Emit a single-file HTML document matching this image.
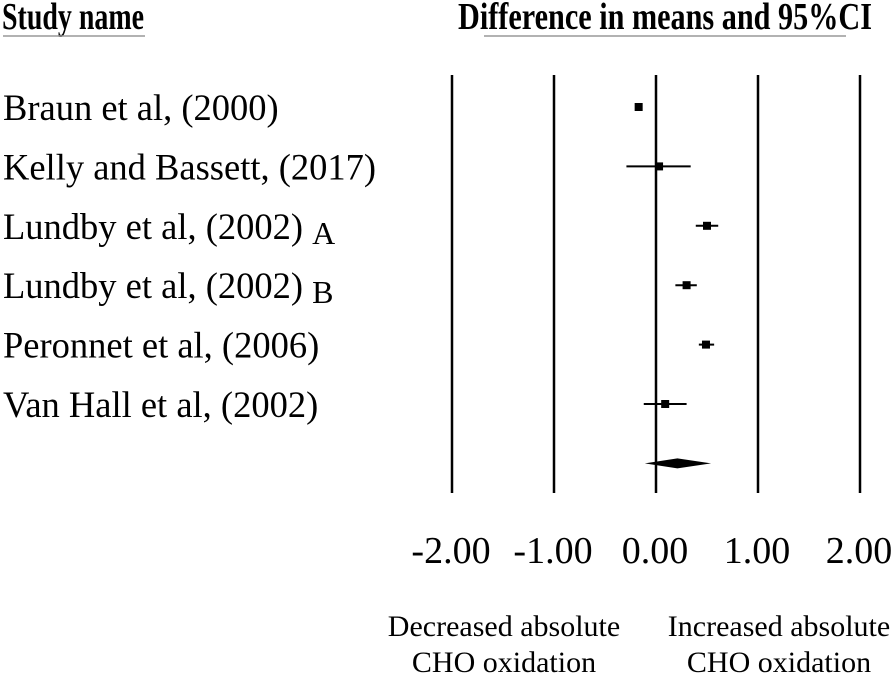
<!DOCTYPE html>
<html><head><meta charset="utf-8"><style>
body{margin:0;background:#fff;}
svg text{font-family:"Liberation Serif",serif;fill:#000;}
</style></head><body>
<svg width="896" height="675" viewBox="0 0 896 675">
<text x="2" y="29" font-size="38" font-weight="bold" textLength="142" lengthAdjust="spacingAndGlyphs">Study name</text>
<line x1="3" y1="36" x2="145" y2="36" stroke="#999" stroke-width="1.5"/>
<text x="458" y="29" font-size="38" font-weight="bold" textLength="414" lengthAdjust="spacingAndGlyphs">Difference in means and 95%CI</text>
<line x1="484" y1="36" x2="846" y2="36" stroke="#999" stroke-width="1.5"/>
<g id="grid"></g><g id="labels"></g><g id="marks"></g>
<text x="504" y="636" font-size="30" text-anchor="middle"><tspan x="504" dy="0">Decreased absolute</tspan><tspan x="504" dy="36">CHO oxidation</tspan></text>
<text x="779" y="636" font-size="30" text-anchor="middle"><tspan x="779" dy="0">Increased absolute</tspan><tspan x="779" dy="36">CHO oxidation</tspan></text>
</svg>
<script>
const studies=["Braun et al, (2000)","Kelly and Bassett, (2017)","Lundby et al, (2002)","Lundby et al, (2002)","Peronnet et al, (2006)","Van Hall et al, (2002)"];
const suffix=["","","A","B","",""];
const est=[-0.17,0.03,0.50,0.30,0.49,0.09];
const lo=[-0.20,-0.29,0.39,0.19,0.42,-0.12];
const hi=[-0.14,0.34,0.61,0.40,0.57,0.30];
const pooled=[0.21,-0.11,0.54];
const ticks=[-2,-1,0,1,2];
const tickLabels=["-2.00","-1.00","0.00","1.00","2.00"];
const NS="http://www.w3.org/2000/svg";
const xs=v=>656+v*102;
const ys=i=>107+i*59.4;
function mk(t,a,p){const e=document.createElementNS(NS,t);for(const k in a)e.setAttribute(k,a[k]);document.getElementById(p).appendChild(e);return e;}
ticks.forEach((t,i)=>{
 const l=mk('line',{x1:xs(t),x2:xs(t),y1:75,y2:493,stroke:'#000','stroke-width':2.5},'grid');
 
 
 const tx=mk('text',{x:xs(t)-1,y:563,'font-size':38,'text-anchor':'middle'},'grid');
 tx.textContent=tickLabels[i];
 
 
});
studies.forEach((s,i)=>{
 const tx=mk('text',{x:3,y:ys(i)+13,'font-size':36.5},'labels');
 tx.textContent=s+(suffix[i]?" ":"");
 if(suffix[i]){const ts=document.createElementNS(NS,'tspan');ts.setAttribute('font-size','32');ts.setAttribute('dy','5');ts.textContent=suffix[i];tx.appendChild(ts);}
 
 
 const l=mk('line',{x1:xs(lo[i]),x2:xs(hi[i]),y1:ys(i),y2:ys(i),stroke:'#000','stroke-width':2},'marks');
 
 
 const r=mk('rect',{x:xs(est[i])-4,y:ys(i)-4,width:8,height:8,fill:'#000'},'marks');
 
 
});
const yd=ys(6);
const d=mk('polygon',{points:`${xs(pooled[1])},${yd} ${xs(pooled[0])},${yd-5} ${xs(pooled[2])},${yd} ${xs(pooled[0])},${yd+5}`,fill:'#000'},'marks');


</script>
</body></html>
